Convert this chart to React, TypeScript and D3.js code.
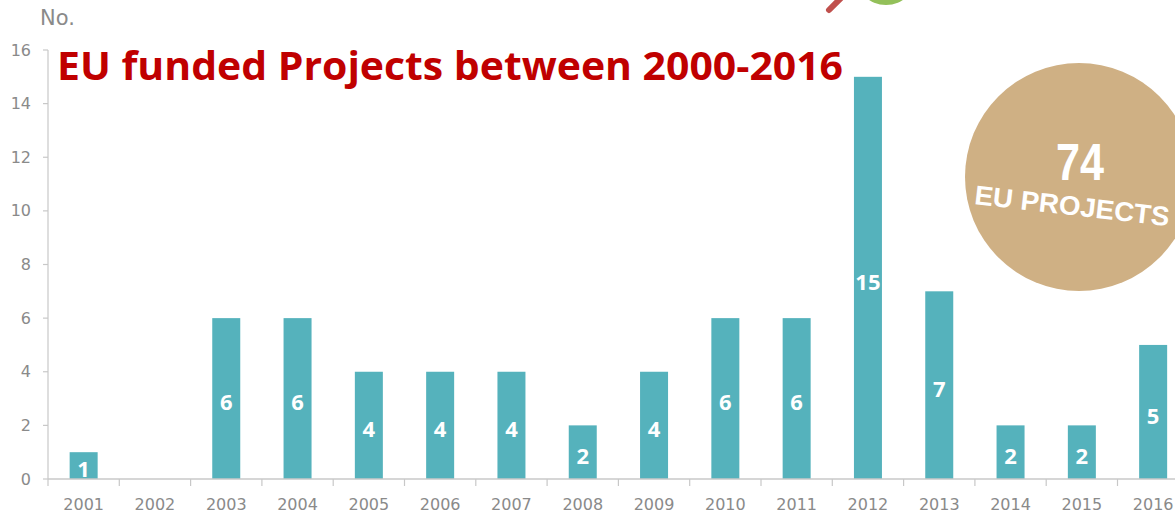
import { useRef, useEffect } from "react";
import * as d3 from "d3";

const years = ["2001", "2002", "2003", "2004", "2005", "2006", "2007", "2008", "2009", "2010", "2011", "2012", "2013", "2014", "2015", "2016"];
const projects = [1, 0, 6, 6, 4, 4, 4, 2, 4, 6, 6, 15, 7, 2, 2, 5];
const yTicks = [0, 2, 4, 6, 8, 10, 12, 14, 16];
const titleText = "EU funded Projects between 2000-2016";
const totalLabel = "74";
const totalCaption = "EU PROJECTS";

const App = () => {
  const ref = useRef<SVGSVGElement | null>(null);
  const w = 1175;
  const h = 515;

  useEffect(() => {
    const svg = d3.select(ref.current);
    svg.selectAll("*").remove();

    const left = 48;
    const step = 71.3;
    const x = d3
      .scaleBand<string>()
      .domain(years)
      .range([left, left + step * years.length])
      .padding(0);
    const y = d3.scaleLinear().domain([0, 16]).range([479, 50]);

    const tickFont = "'DejaVu Sans', sans-serif";
    const grey = "#8a8a8a";

    // decorations cut off at the top
    svg
      .append("circle")
      .attr("cx", 886)
      .attr("cy", -26)
      .attr("r", 31)
      .attr("fill", "#93c05a");
    svg
      .append("line")
      .attr("x1", 829)
      .attr("y1", 10)
      .attr("x2", 845)
      .attr("y2", -6)
      .attr("stroke", "#c0504d")
      .attr("stroke-width", 6)
      .attr("stroke-linecap", "round");

    // y axis
    const yAxis = svg.append("g");
    yAxis
      .append("line")
      .attr("x1", left)
      .attr("x2", left)
      .attr("y1", y(0))
      .attr("y2", y(16))
      .attr("stroke", "#c8c8c8")
      .attr("stroke-width", 1.2);
    yAxis
      .selectAll("line.tick")
      .data(yTicks)
      .enter()
      .append("line")
      .attr("class", "tick")
      .attr("x1", left - 5)
      .attr("x2", left)
      .attr("y1", (d) => y(d))
      .attr("y2", (d) => y(d))
      .attr("stroke", "#c8c8c8")
      .attr("stroke-width", 1.2);
    yAxis
      .selectAll("text")
      .data(yTicks)
      .enter()
      .append("text")
      .attr("x", 31)
      .attr("y", (d) => y(d))
      .attr("dy", "0.35em")
      .attr("text-anchor", "end")
      .attr("font-family", tickFont)
      .attr("font-size", 16)
      .attr("fill", grey)
      .text((d) => d);

    svg
      .append("text")
      .attr("x", 40)
      .attr("y", 25)
      .attr("font-family", tickFont)
      .attr("font-size", 21)
      .attr("fill", grey)
      .text("No.");

    // bars
    const barW = 28;
    svg
      .selectAll("rect.bar")
      .data(projects)
      .enter()
      .append("rect")
      .attr("class", "bar")
      .attr("x", (_, i) => (x(years[i]) as number) + x.bandwidth() / 2 - barW / 2)
      .attr("y", (d) => y(d))
      .attr("width", barW)
      .attr("height", (d) => y(0) - y(d))
      .attr("fill", "#55b2bc");

    // x axis
    const xAxis = svg.append("g");
    xAxis
      .append("line")
      .attr("x1", left)
      .attr("x2", w)
      .attr("y1", y(0))
      .attr("y2", y(0))
      .attr("stroke", "#c8c8c8")
      .attr("stroke-width", 1.5);
    xAxis
      .selectAll("line.tick")
      .data(years)
      .enter()
      .append("line")
      .attr("class", "tick")
      .attr("x1", (d) => x(d) as number)
      .attr("x2", (d) => x(d) as number)
      .attr("y1", y(0))
      .attr("y2", y(0) + 7)
      .attr("stroke", "#c8c8c8")
      .attr("stroke-width", 1.2);
    xAxis
      .selectAll("text")
      .data(years)
      .enter()
      .append("text")
      .attr("x", (d) => (x(d) as number) + x.bandwidth() / 2)
      .attr("y", 510)
      .attr("text-anchor", "middle")
      .attr("font-family", tickFont)
      .attr("font-size", 16)
      .attr("fill", grey)
      .text((d) => d);

    // value labels inside bars
    svg
      .selectAll("text.val")
      .data(projects.map((v, i) => ({ v, year: years[i] })).filter((d) => d.v > 0))
      .enter()
      .append("text")
      .attr("class", "val")
      .attr("x", (d) => (x(d.year) as number) + x.bandwidth() / 2)
      .attr("y", (d) => (y(d.v) + y(0)) / 2 + 4)
      .attr("dy", "0.35em")
      .attr("text-anchor", "middle")
      .attr("font-family", "'Open Sans', sans-serif")
      .attr("font-weight", 700)
      .attr("font-size", 22)
      .attr("fill", "#ffffff")
      .text((d) => d.v);

    // title
    svg
      .append("text")
      .attr("x", 57)
      .attr("y", 80)
      .attr("font-family", "'Open Sans', sans-serif")
      .attr("font-weight", 700)
      .attr("font-size", 40)
      .attr("fill", "#c00000")
      .attr("textLength", 786)
      .attr("lengthAdjust", "spacingAndGlyphs")
      .text(titleText);

    // total badge
    svg
      .append("circle")
      .attr("cx", 1079)
      .attr("cy", 177)
      .attr("r", 114)
      .attr("fill", "#cfb084");
    svg
      .append("text")
      .attr("x", 1056)
      .attr("y", 180)
      .attr("font-family", "'Liberation Sans', Arial, sans-serif")
      .attr("font-weight", 700)
      .attr("font-size", 52)
      .attr("textLength", 48)
      .attr("lengthAdjust", "spacingAndGlyphs")
      .attr("fill", "#ffffff")
      .text(totalLabel);
    svg
      .append("text")
      .attr("transform", "translate(1071,215) rotate(6.5)")
      .attr("text-anchor", "middle")
      .attr("font-family", "'Liberation Sans', Arial, sans-serif")
      .attr("font-weight", 700)
      .attr("font-size", 27)
      .attr("textLength", 196)
      .attr("lengthAdjust", "spacingAndGlyphs")
      .attr("fill", "#ffffff")
      .text(totalCaption);
  }, []);

  return (
    <div style={{ position: "absolute", top: 0, left: 0 }}>
      <svg ref={ref} width={w} height={h} style={{ display: "block", background: "#fff" }} />
    </div>
  );
};

export default App;
